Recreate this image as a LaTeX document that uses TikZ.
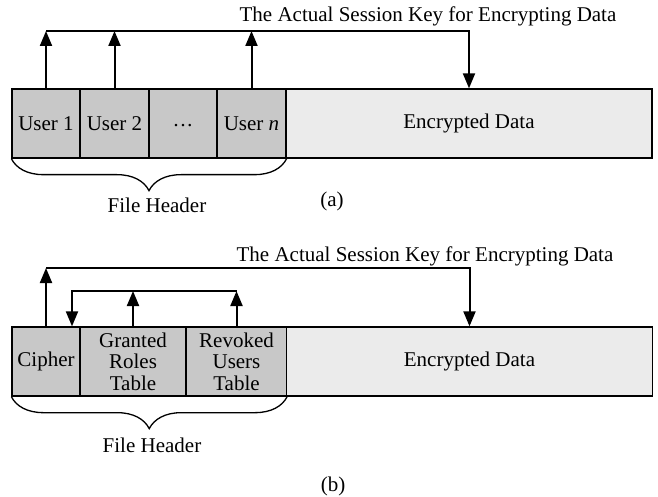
\documentclass[tikz,border=0pt]{standalone}
\usepackage{fontspec}
\setmainfont{Liberation Serif}
\usetikzlibrary{arrows.meta,decorations.pathreplacing}

\definecolor{hdrgray}{RGB}{200,200,200}
\definecolor{datgray}{RGB}{235,235,235}

\begin{document}
\begin{tikzpicture}[x=1pt, y=-1pt,
    font=\fontsize{21}{21.5}\selectfont,
    cell/.style={draw, line width=1.3pt, fill=hdrgray, inner sep=0pt,
                 minimum height=69pt, align=center},
    data/.style={cell, fill=datgray, minimum width=366pt},
    flow/.style={line width=2pt},
    post/.style={flow, -{Triangle[length=15pt,width=12pt]}},
    hbrace/.style={line width=1.3pt, decorate,
                   decoration={brace, mirror, amplitude=32pt}},
    txt/.style={anchor=base, inner sep=0pt}]

  \useasboundingbox (0,0) rectangle (658,497);

  % (a)
  \foreach \x/\w/\n/\t in {46/68/u1/User 1, 114.5/69/u2/User 2,
                           183/68/ud/{\vphantom{User}\raisebox{-5pt}{\textperiodcentered\textperiodcentered\textperiodcentered}},
                           251.5/69/un/User \textit{n}}
    \node [cell, minimum width=\w pt] (\n) at (\x,123.5) {\t};
  \node [data] (eda) at (469,123.5) {Encrypted Data};

  \node [txt] (keya) at (428,21.7) {The Actual Session Key for Encrypting Data};
  \coordinate (ca) at (469,31);

  \foreach \n in {u1, u2, un}
    \draw [post] (\n.north) -- (\n.north |- ca);
  \draw [post] (u1.north |- ca) -- (ca) -- (eda.north);

  \draw [hbrace] (u1.south west) -- (un.south east);
  \node [txt] (fha) at (157,212) {File Header};
  \node [txt] (laba) at (332,207) {(a)};

  % (b)
  \node [cell, minimum width=68pt] (ci) at (46,361.5) {Cipher};
  \node [cell, minimum width=106pt] (gr) at (133,361.5) {Granted\\Roles\\Table};
  \node [cell, minimum width=100pt] (rv) at (236.5,361.5) {Revoked\\Users\\Table};
  \node [data] (edb) at (469.5,361.5) {Encrypted Data};

  \node [txt] (keyb) at (425,261.7) {The Actual Session Key for Encrypting Data};
  \coordinate (cb) at (469.5,268);
  \coordinate (ib) at (72,291);

  \draw [post] (ci.north) -- (ci.north |- cb);
  \draw [post] (ci.north |- cb) -- (cb) -- (edb.north);

  \foreach \n in {gr, rv}
    \draw [post] (\n.north) -- (\n.north |- ib);
  \draw [post] (rv.north |- ib) -- (ib) -- (ib |- ci.north);

  \draw [hbrace] (ci.south west) -- (rv.south east);
  \node [txt] (fhb) at (152,452) {File Header};
  \node [txt] (labb) at (333,491) {(b)};

\end{tikzpicture}
\end{document}
